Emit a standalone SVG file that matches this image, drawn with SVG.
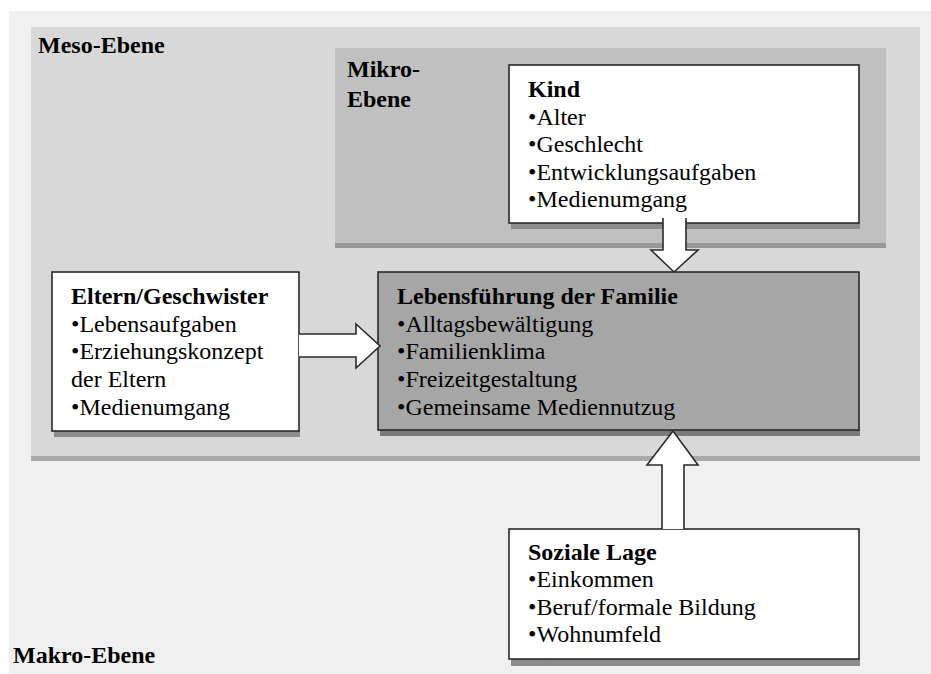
<svg xmlns="http://www.w3.org/2000/svg" width="931" height="674" viewBox="0 0 931 674">
<style>
text{font-family:"Liberation Serif","Times New Roman",serif;font-size:24px;fill:#000}
.b{font-weight:bold}
.box{stroke:#2a2a2a;stroke-width:1.6}
.arr{fill:#fff;stroke:#2a2a2a;stroke-width:1.6;stroke-linejoin:miter}
.sh{fill:#8c8c8c}
</style>
<rect x="0" y="0" width="931" height="674" fill="#fff"/>
<g id="makro">
<rect x="9" y="11" width="922" height="663" fill="#f0f0f0"/>
<text class="b" x="13" y="663">Makro-Ebene</text>
</g>
<g id="meso">
<rect x="31" y="27" width="889" height="430" fill="#d8d8d8"/>
<rect x="31" y="456" width="889" height="5" fill="#a9a9a9"/>
<text class="b" x="38" y="53">Meso-Ebene</text>
</g>
<g id="mikro">
<rect x="335" y="48" width="551" height="195" fill="#c0c0c0"/>
<rect x="335" y="243" width="551" height="5" fill="#979797"/>
<text class="b" x="347" y="77">Mikro-</text>
<text class="b" x="347" y="107">Ebene</text>
</g>
<g id="kind">
<rect class="sh" x="511" y="222" width="349" height="7"/>
<rect class="box" x="509" y="65" width="350" height="158" fill="#fff"/>
<text class="b" x="528" y="97">Kind</text>
<text x="528" y="125">•Alter</text>
<text x="528" y="152">•Geschlecht</text>
<text x="528" y="180">•Entwicklungsaufgaben</text>
<text x="528" y="207">•Medienumgang</text>
</g>
<g id="eltern">
<rect class="sh" x="54" y="430" width="246" height="7"/>
<rect class="box" x="52" y="272" width="247" height="159" fill="#fff"/>
<text class="b" x="71" y="304">Eltern/Geschwister</text>
<text x="71" y="332">•Lebensaufgaben</text>
<text x="71" y="359">•Erziehungskonzept</text>
<text x="71" y="387">der Eltern</text>
<text x="71" y="415">•Medienumgang</text>
</g>
<g id="familie">
<rect x="380" y="429" width="480" height="7" fill="#7a7a7a"/>
<rect class="box" x="378" y="272" width="481" height="158" fill="#a6a6a6"/>
<text class="b" x="397" y="304">Lebensführung der Familie</text>
<text x="397" y="332">•Alltagsbewältigung</text>
<text x="397" y="359">•Familienklima</text>
<text x="397" y="387">•Freizeitgestaltung</text>
<text x="397" y="415">•Gemeinsame Mediennutzug</text>
</g>
<g id="soziale">
<rect class="sh" x="511" y="658" width="349" height="8"/>
<rect class="box" x="509" y="529" width="350" height="130" fill="#fff"/>
<text class="b" x="528" y="560">Soziale Lage</text>
<text x="528" y="587">•Einkommen</text>
<text x="528" y="615">•Beruf/formale Bildung</text>
<text x="528" y="642">•Wohnumfeld</text>
</g>
<g id="connectors">
<path class="arr" d="M663,218 V250 H651 L674,272 L698,250 H686 V218"/>
<path class="arr" d="M299,334 H356 V324 L380,346 L356,368 V357 H299"/>
<path class="arr" d="M662,529 V465 H647 L673,431 L698,465 H684 V529"/>
</g>
</svg>
